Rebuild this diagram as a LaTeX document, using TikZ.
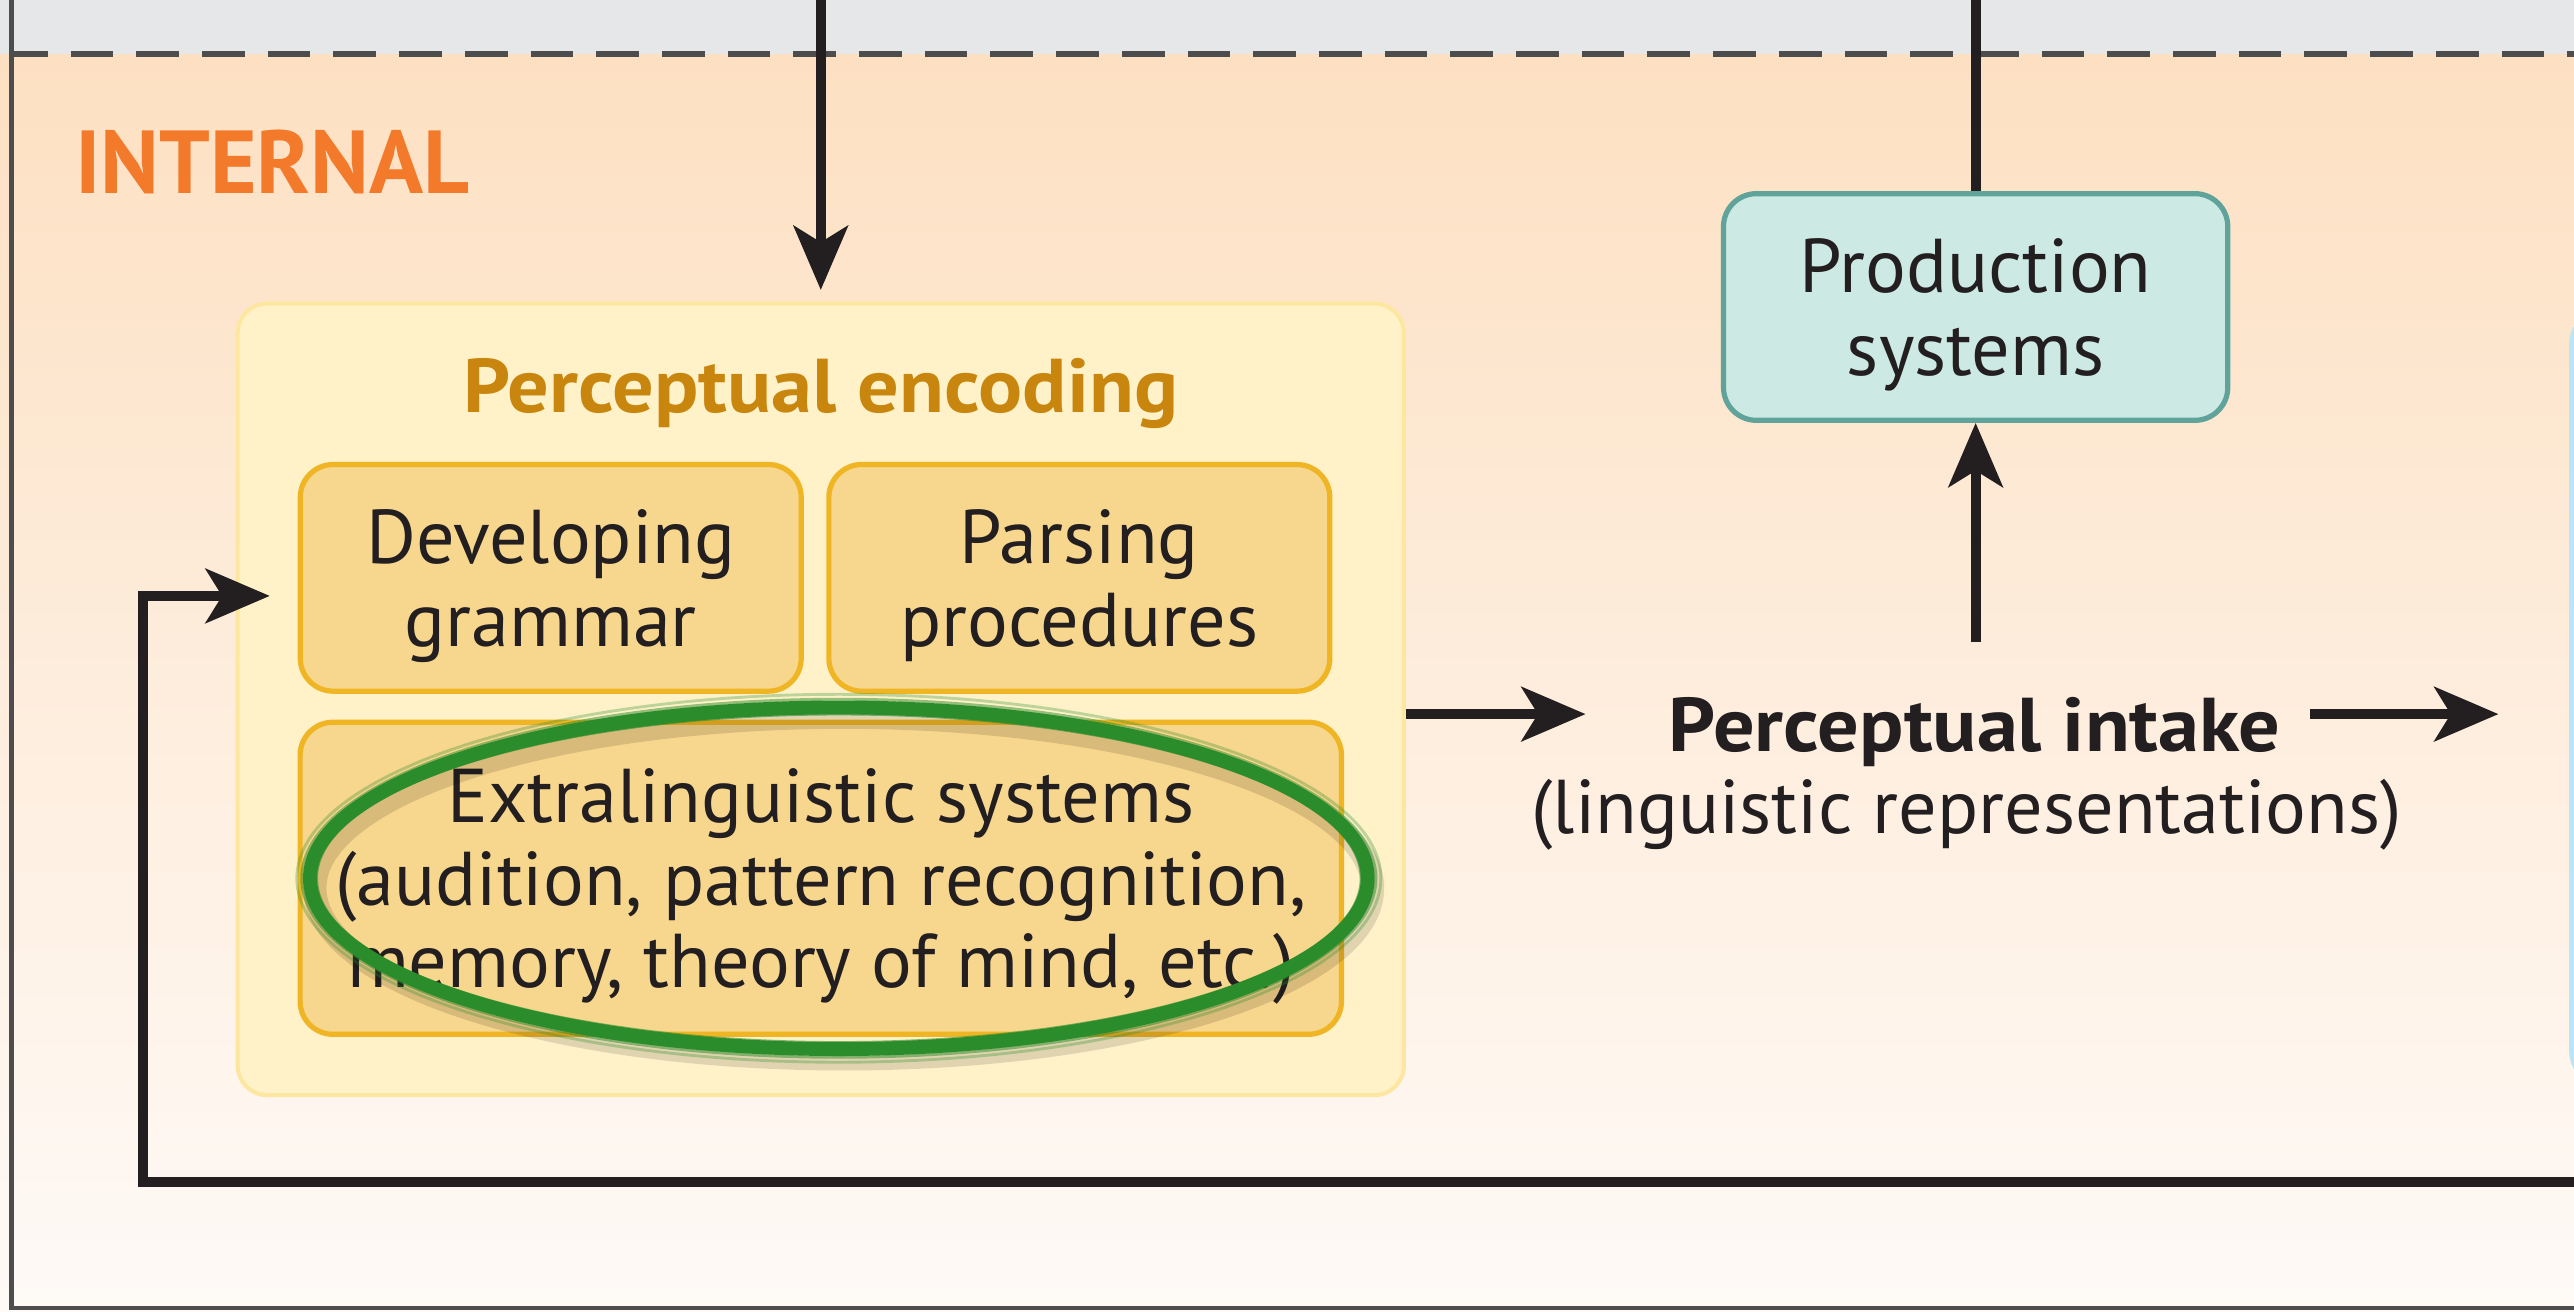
\documentclass[tikz,border=0pt]{standalone}
\usepackage{fontspec}
\setmainfont{PT Sans}
\newfontfamily\widesans[FakeStretch=1.08]{PT Sans}
\usetikzlibrary{arrows.meta,calc}

\definecolor{bandgrey}{HTML}{E6E7E8}
\definecolor{peachtop}{HTML}{FDE0C2}
\definecolor{peachbot}{HTML}{FEFAF7}
\definecolor{framegrey}{HTML}{4D4D4D}
\definecolor{intorange}{HTML}{F37A2B}
\definecolor{encfill}{HTML}{FFF2C9}
\definecolor{encline}{HTML}{FDE7A0}
\definecolor{subfill}{HTML}{F7D68D}
\definecolor{subline}{HTML}{EFB524}
\definecolor{enctitle}{HTML}{C8860F}
\definecolor{prodfill}{HTML}{CDE9E3}
\definecolor{prodline}{HTML}{5FA39A}
\definecolor{blueline}{HTML}{BCE4F7}
\definecolor{bluefill}{HTML}{E3F3FA}
\definecolor{inkdark}{HTML}{231F20}
\definecolor{markgreen}{HTML}{2A8C2B}

\begin{document}
\begin{tikzpicture}[x=0.01cm,y=-0.01cm]
\tikzset{
    txt/.style={text=inkdark,font=\fontsize{13.2pt}{14.3pt}\selectfont,align=center},
    arr/.style={draw=inkdark,line width=1.7pt,-{Stealth[length=3.9mm,width=3.3mm,inset=1mm]}},
    plain line/.style={draw=inkdark,line width=1.7pt},
    subbox/.style={txt,draw=subline,fill=subfill,line width=0.9pt,rounded corners=2mm,inner sep=0pt,text depth=0pt},
    encbox/.style={draw=encline,fill=encfill,line width=0.7pt,rounded corners=1.8mm,inner sep=0pt},
    prodbox/.style={txt,draw=prodline,fill=prodfill,line width=0.9pt,rounded corners=2mm,inner sep=0pt,text depth=0pt},
}
\useasboundingbox (0,0) rectangle (1568,799);
\clip (0,0) rectangle (1568,799);

% background bands
\fill[bandgrey] (0,0) rectangle (1568,33);
\shade[top color=peachtop,bottom color=peachbot] (0,33) rectangle (1568,799);
\draw[framegrey,line width=1pt,dash pattern=on 0.26cm off 0.14cm,dash phase=0.04cm] (7,33) -- (1568,33);
\draw[framegrey,line width=0.7pt] (7,-5) -- (7,797) -- (1580,797);

\node[anchor=base west,text=intorange,font=\fontsize{15.5pt}{17pt}\selectfont\bfseries,inner sep=0pt] (internal) at (45,118) {INTERNAL};

% perceptual encoding
\node[encbox,minimum width=7.1cm,minimum height=4.82cm] (enc) at (500,426) {};
\node[anchor=base,text=enctitle,font=\fontsize{13.2pt}{14pt}\selectfont\widesans\bfseries,inner sep=0pt] (enctitle) at (500,251) {Perceptual encoding};
\node[subbox,minimum width=3.05cm,minimum height=1.38cm] (gram) at (335.5,352) {Developing\\grammar};
\node[subbox,minimum width=3.05cm,minimum height=1.38cm] (pars) at (657.5,352) {Parsing\\procedures};
\node[subbox,minimum width=6.34cm,minimum height=1.9cm] (extra) at (500,535) {Extralinguistic systems\\(audition, pattern recognition,\\memory, theory of mind, etc.)};

% production and intake
\node[prodbox,minimum width=3.07cm,minimum height=1.38cm] (prod) at (1203.5,187) {Production\\systems};
\node[txt,anchor=base,inner sep=0pt,font=\fontsize{13.2pt}{14pt}\selectfont\widesans\bfseries] (intake) at (1203,458) {Perceptual intake};
\node[txt,anchor=base,inner sep=0pt] (repr) at (1198,508) {(linguistic representations)};
\node[draw=blueline,fill=bluefill,line width=1.3pt,rounded corners=2mm,minimum width=3cm,minimum height=4.7cm,anchor=west] (blue) at (1565,425) {};

% connectors
\coordinate (lvl) at (0,435);
\coordinate (encin) at (500,-10);
\coordinate (prodout) at (1203.5,-10);
\coordinate (fbin) at (1580,720);
\coordinate (fbturn) at (87,720);
\draw[arr,shorten >=0.07cm] (encin) -- (enc.north);
\draw[plain line] (prod.north) -- (prodout);
\draw[arr,shorten <=0.33cm] (prod.south |- intake.north) -- (prod.south);
\draw[arr,shorten >=0.5cm] (enc.east |- lvl) -- (intake.west |- lvl);
\draw[arr,shorten <=0.17cm,shorten >=0.43cm] (intake.east |- lvl) -- (blue.west |- lvl);
\draw[arr,shorten >=0.17cm] (fbin) -- (fbturn) |- ([yshift=-0.11cm]gram.west);

% hand-drawn mark
\draw[black,opacity=0.12,line width=4pt] (514,541) ellipse [x radius=3.22cm,y radius=1.04cm];
\draw[markgreen,line width=2.4pt] (511,535) ellipse [x radius=3.22cm,y radius=1.04cm];
\foreach \dr/\op in {0.05/0.5,-0.04/0.6,0.08/0.3}
    \draw[markgreen,opacity=\op,line width=0.5pt] (511,535) ellipse [x radius=3.22cm+\dr cm,y radius=1.04cm+\dr cm];
\end{tikzpicture}
\end{document}
